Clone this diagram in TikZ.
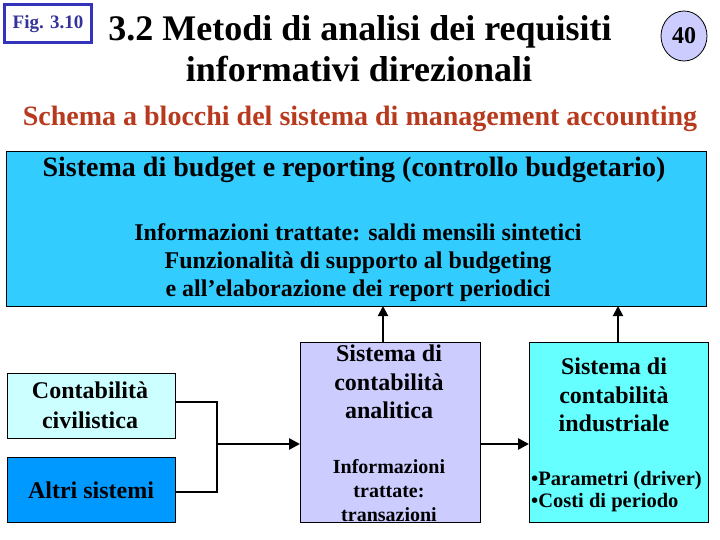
\documentclass[tikz,border=0pt]{standalone}
\usepackage{fontspec}
\setmainfont{Liberation Serif}
\usetikzlibrary{arrows.meta,shapes.geometric}
\definecolor{bigblue}{HTML}{33CCFF}
\definecolor{civ}{HTML}{CCFFFF}
\definecolor{altri}{HTML}{0099FF}
\definecolor{lav}{HTML}{CCCCFF}
\definecolor{ind}{HTML}{66FFFF}
\definecolor{figblue}{HTML}{3333BB}
\definecolor{figtext}{HTML}{333399}
\definecolor{subred}{HTML}{B83A1E}
\tikzset{
  box/.style={draw=black, line width=0.9pt},
  txt/.style={font=\bfseries, align=center, inner sep=0pt},
  thin/.style={line width=1.2pt},
  thick/.style={line width=2.6pt, -{Triangle[length=11pt,width=11pt]}},
  uparrow/.style={line width=2pt, -{Triangle[length=10pt,width=10pt]}}
}
\begin{document}
\begin{tikzpicture}[x=1pt,y=-1pt]
\useasboundingbox (0,0) rectangle (720,540);
% Fig label
\node[draw=figblue, line width=3pt, minimum width=87pt, minimum height=38pt, inner sep=0pt, text=figtext, font=\bfseries\fontsize{19}{22}\selectfont] (fig) at (48,24) {Fig. 3.10};
% title
\node[txt, font=\bfseries\fontsize{36}{40}\selectfont] (t1) at (360,32) {3.2 Metodi di analisi dei requisiti};
\node[txt, font=\bfseries\fontsize{36}{40}\selectfont] (t2) at (359,69) {informativi direzionali};
% page number
\node[draw=black, line width=0.8pt, fill=lav, ellipse, minimum width=46pt, minimum height=50pt, inner sep=0pt, font=\bfseries\fontsize{24}{26}\selectfont] (num) at (684,36) {40};
% subtitle
\node[txt, text=subred, font=\bfseries\fontsize{28}{32}\selectfont] (sub) at (360,119) {Schema a blocchi del sistema di management accounting};
% big box
\draw[box, fill=bigblue] (6,151) rectangle (706,306);
\coordinate (bigA) at (383,306);
\coordinate (bigB) at (618,306);
\node[txt, font=\bfseries\fontsize{28}{32}\selectfont] (bt) at (354,170) {Sistema di budget e reporting (controllo budgetario)};
\node[txt, font=\bfseries\fontsize{24}{28}\selectfont] (bi) at (358,263) {Informazioni trattate: saldi mensili sintetici\\Funzionalità di supporto al budgeting\\e all’elaborazione dei report periodici};
% lower boxes
\draw[box, fill=civ] (7,373) rectangle (175,438);
\node[txt, font=\bfseries\fontsize{24}{30}\selectfont] (civt) at (90,405) {Contabilità\\civilistica};
\draw[box, fill=altri] (7,457) rectangle (175,522);
\node[txt, font=\bfseries\fontsize{24}{26}\selectfont] (altt) at (91,490) {Altri sistemi};
\draw[box, fill=lav] (300,342) rectangle (480,522);
\node[txt, font=\bfseries\fontsize{24}{28.5}\selectfont] (ant) at (389,382) {Sistema di\\contabilità\\analitica};
\node[txt, font=\bfseries\fontsize{20}{24}\selectfont] (ani) at (389,491) {Informazioni\\trattate:\\transazioni};
\draw[box, fill=ind] (529,342) rectangle (708,522);
\node[txt, font=\bfseries\fontsize{24}{28.5}\selectfont] (indt) at (614,395) {Sistema di\\contabilità\\industriale};
\node[txt, align=left, anchor=west, font=\bfseries\fontsize{20.5}{22}\selectfont] (indi) at (531,492) {•Parametri (driver)\\•Costi di periodo};
% connectors
\coordinate (civR) at (175,402);
\coordinate (altR) at (175,492);
\coordinate (j1) at (217,402);
\coordinate (j2) at (217,492);
\coordinate (jm) at (217,444);
\coordinate (anL) at (300,444);
\coordinate (anR) at (480,444);
\coordinate (inL) at (529,444);
\coordinate (anT) at (383,342);
\coordinate (inT) at (618,342);
\draw[thin] (civR) -- (j1) -- (j2) -- (altR);
\draw[thick] (jm) -- (anL);
\draw[thick] (anR) -- (inL);
\draw[uparrow] (anT) -- (bigA);
\draw[uparrow] (inT) -- (bigB);
\end{tikzpicture}
\end{document}
